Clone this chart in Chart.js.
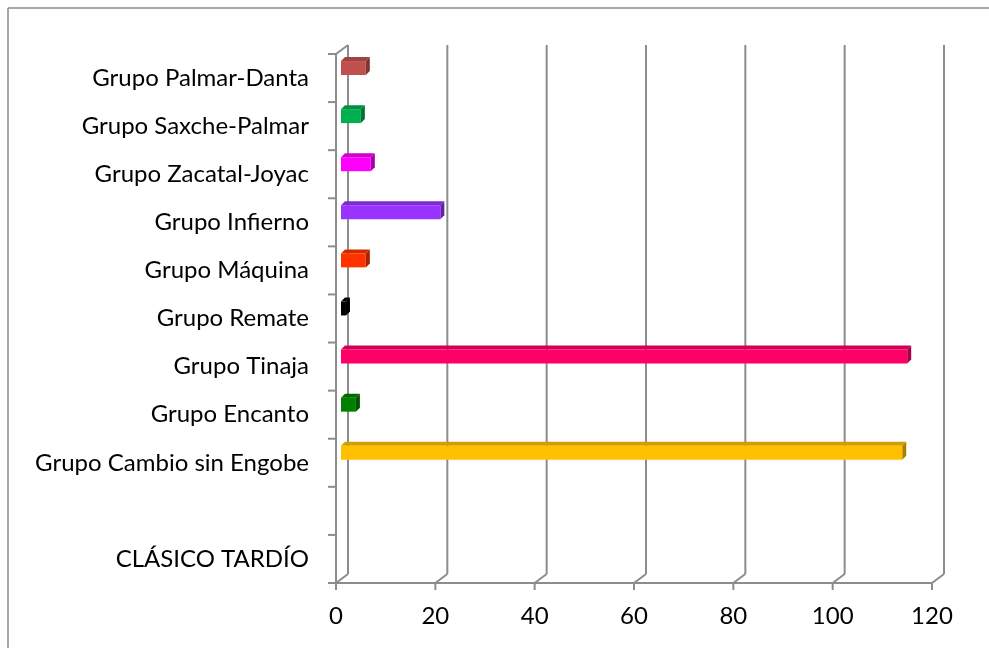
<!DOCTYPE html>
<html>
<head>
<meta charset="utf-8">
<script src="https://cdn.jsdelivr.net/npm/chart.js@4.4.0/dist/chart.umd.min.js"></script>
<style>
  body { margin: 0; background: #fff; }
  canvas { display: block; }
</style>
</head>
<body>
<canvas id="barras" width="989" height="648"></canvas>
<script>
// grupos cerámicos (de arriba hacia abajo) y cantidad de tiestos
const grupos = ['Grupo Palmar-Danta', 'Grupo Saxche-Palmar', 'Grupo Zacatal-Joyac', 'Grupo Infierno',
  'Grupo Máquina', 'Grupo Remate', 'Grupo Tinaja', 'Grupo Encanto', 'Grupo Cambio sin Engobe', '', 'CLÁSICO TARDÍO'];
const cantidades = [5, 4, 6, 20, 5, 1, 114, 3, 113, null, null];
const colores = ['#C0504D', '#00B050', '#FF00FF', '#9933FF', '#FF3300', '#000000', '#FF0066', '#008000', '#FFC000', '#000000', '#000000'];
const marcasX = [0, 20, 40, 60, 80, 100, 120];

const GRIS = '#8c8c8c';
const FONDO = { dx: 12, dy: -9 };     // desplazamiento de la pared del fondo
const BARRA = { dx: 5, dy: -10 };     // profundidad a la que se sitúan las barras
const CARA = { dx: 4, dy: -4 };       // grosor de las caras superior y lateral

function oscurecer(hex, f) {
  const n = parseInt(hex.slice(1), 16);
  const r = Math.round(((n >> 16) & 255) * f);
  const g = Math.round(((n >> 8) & 255) * f);
  const b = Math.round((n & 255) * f);
  return 'rgb(' + r + ',' + g + ',' + b + ')';
}

function linea(ctx, x1, y1, x2, y2) {
  ctx.beginPath();
  ctx.moveTo(x1, y1);
  ctx.lineTo(x2, y2);
  ctx.stroke();
}

const efecto3d = {
  id: 'efecto3d',
  beforeDraw(chart) {
    const ctx = chart.ctx;
    const area = chart.chartArea;
    const sx = chart.scales.x;
    ctx.save();
    ctx.fillStyle = '#fff';
    ctx.fillRect(0, 0, chart.width, chart.height);

    // marco exterior
    ctx.strokeStyle = '#8a8a8a';
    ctx.lineWidth = 1.5;
    linea(ctx, 8, 8, chart.width + 2, 8);
    linea(ctx, 8, 8, 8, chart.height + 2);

    ctx.strokeStyle = GRIS;
    ctx.lineWidth = 2;
    // líneas de división en la pared del fondo
    marcasX.forEach(v => {
      const x = sx.getPixelForValue(v);
      linea(ctx, x + FONDO.dx, area.top + FONDO.dy, x + FONDO.dx, area.bottom + FONDO.dy);
      linea(ctx, x, area.bottom, x + FONDO.dx, area.bottom + FONDO.dy);
      linea(ctx, x, area.bottom, x, area.bottom + 7);
    });
    // eje vertical delantero con su unión al fondo
    linea(ctx, area.left, area.top, area.left, area.bottom);
    linea(ctx, area.left, area.top, area.left + FONDO.dx, area.top + FONDO.dy);
    // eje horizontal delantero
    linea(ctx, area.left, area.bottom, area.right, area.bottom);
    // marcas entre categorías
    const paso = (area.bottom - area.top) / grupos.length;
    for (let i = 0; i <= grupos.length; i++) {
      const y = area.top + i * paso;
      linea(ctx, area.left - 8, y, area.left, y);
    }
    ctx.restore();
  },
  beforeDatasetsDraw(chart) {
    const ctx = chart.ctx;
    ctx.save();
    ctx.translate(BARRA.dx, BARRA.dy);
    const meta = chart.getDatasetMeta(0);
    meta.data.forEach((bar, i) => {
      if (cantidades[i] == null) return;
      const p = bar.getProps(['x', 'y', 'base', 'height']);
      const top = p.y - p.height / 2;
      const bottom = p.y + p.height / 2;
      // cara superior
      ctx.fillStyle = oscurecer(colores[i], 0.82);
      ctx.beginPath();
      ctx.moveTo(p.base, top);
      ctx.lineTo(p.base + CARA.dx, top + CARA.dy);
      ctx.lineTo(p.x + CARA.dx, top + CARA.dy);
      ctx.lineTo(p.x, top);
      ctx.closePath();
      ctx.fill();
      // cara lateral
      ctx.fillStyle = oscurecer(colores[i], 0.66);
      ctx.beginPath();
      ctx.moveTo(p.x, top);
      ctx.lineTo(p.x + CARA.dx, top + CARA.dy);
      ctx.lineTo(p.x + CARA.dx, bottom + CARA.dy);
      ctx.lineTo(p.x, bottom);
      ctx.closePath();
      ctx.fill();
    });
  },
  afterDatasetsDraw(chart) {
    chart.ctx.restore();
  }
};

const fuente = { family: 'Lato, "Open Sans", sans-serif', size: 24 };

new Chart(document.getElementById('barras'), {
  type: 'bar',
  data: {
    labels: grupos,
    datasets: [{
      data: cantidades,
      backgroundColor: colores,
      borderWidth: 0,
      categoryPercentage: 1,
      barPercentage: 0.29
    }]
  },
  options: {
    indexAxis: 'y',
    responsive: false,
    animation: false,
    layout: { padding: { top: 54, right: 57, left: 0, bottom: 0 } },
    plugins: { legend: { display: false }, tooltip: { enabled: false } },
    scales: {
      x: {
        min: 0,
        max: 120,
        ticks: { stepSize: 20, color: '#000', font: fuente, padding: 11 },
        grid: { display: false },
        border: { display: false },
        afterFit(scale) { scale.height = 65; }
      },
      y: {
        ticks: { color: '#000', font: fuente, padding: 19, autoSkip: false },
        grid: { display: false },
        border: { display: false },
        afterFit(scale) { scale.width = 336; }
      }
    }
  },
  plugins: [efecto3d]
});
</script>
</body>
</html>
